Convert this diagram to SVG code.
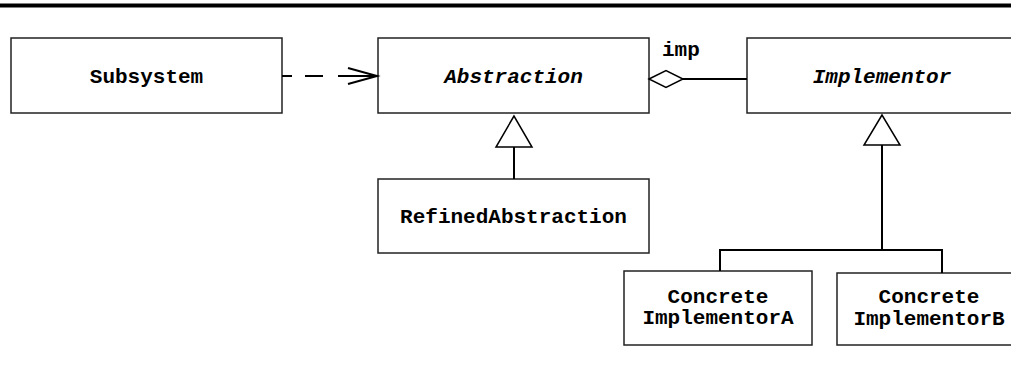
<svg xmlns="http://www.w3.org/2000/svg" width="1011" height="371" viewBox="0 0 1011 371">
<style>
.box{fill:#fff;stroke:#222;stroke-width:1.5}
.t{font-family:"Courier New","Liberation Mono",monospace;font-weight:bold;font-size:21px;fill:#000;text-anchor:middle}
.i{font-style:italic}
.c{fill:none;stroke:#000;stroke-width:2}
.h{fill:#fff;stroke:#000;stroke-width:1.5}
</style>
<rect x="0" y="3.5" width="1011" height="4" fill="#000"/>
<g id="subsystem"><rect class="box" x="11" y="38" width="271" height="75"/><text class="t" x="146.5" y="83">Subsystem</text></g>
<g id="abstraction"><rect class="box" x="378" y="38" width="271" height="75"/><text class="t i" x="513.5" y="83">Abstraction</text></g>
<g id="implementor"><rect class="box" x="747" y="38" width="271" height="75"/><text class="t i" x="882" y="83">Implementor</text></g>
<g id="refined"><rect class="box" x="378" y="179" width="271" height="74"/><text class="t" x="513.5" y="223">RefinedAbstraction</text></g>
<g id="concreteA"><rect class="box" x="624" y="271" width="188" height="74"/><text class="t" x="718" y="303">Concrete</text><text class="t" x="718" y="324">ImplementorA</text></g>
<g id="concreteB"><rect class="box" x="837" y="273" width="186" height="72"/><text class="t" x="929" y="303">Concrete</text><text class="t" x="929" y="325">ImplementorB</text></g>
<g id="connectors">
<line class="c" x1="282" y1="76" x2="377" y2="76" stroke-dasharray="10 13 18 15 41"/>
<polyline class="c" points="348,68 377,76 348,84" stroke-width="1.5"/>
<line class="c" x1="683" y1="79" x2="747" y2="79"/>
<polygon class="h" points="649,79 666,70.5 683,79 666,87.5"/>
<text class="t" x="662" y="56" style="text-anchor:start">imp</text>
<line class="c" x1="514" y1="147" x2="514" y2="179"/>
<polygon class="h" points="514,116 496,147 532,147"/>
<polyline class="c" points="720,271 720,250 942,250 942,273"/>
<line class="c" x1="882" y1="145" x2="882" y2="250"/>
<polygon class="h" points="882,115 864,145 900,145"/>
</g>
</svg>
